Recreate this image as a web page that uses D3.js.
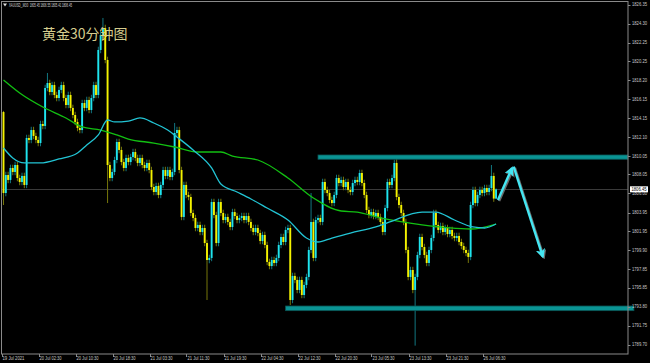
<!DOCTYPE html>
<html>
<head>
<meta charset="utf-8">
<script src="https://cdnjs.cloudflare.com/ajax/libs/d3/7.8.5/d3.min.js"></script>
<style>
  body { margin: 0; background: #000; }
  svg { display: block; }
</style>
</head>
<body>
<svg id="chart" width="650" height="363"></svg>
<script>
// XAUUSD M30 bars (price units)
var firstOpen = 1814.78;
var closes = [
  1806.05, 1807.99, 1807.46, 1808.75, 1808.32, 1809.07, 1807.67, 1807.24, 1807.89, 1806.92,
  1811.98, 1811.77, 1812.84, 1812.20, 1811.77, 1811.44, 1813.49, 1813.28, 1817.37, 1817.91,
  1816.94, 1817.69, 1816.62, 1816.29, 1817.16, 1817.69, 1816.29, 1815.54, 1816.62, 1815.22,
  1814.46, 1813.71, 1813.06, 1812.84, 1815.75, 1815.22, 1816.08, 1815.00, 1816.29, 1817.69,
  1816.62, 1821.47, 1823.08, 1823.84, 1820.39, 1809.07, 1807.67, 1808.32, 1809.61, 1811.55,
  1810.69, 1809.39, 1808.75, 1809.83, 1809.39, 1809.93, 1810.47, 1809.83, 1809.29, 1809.83,
  1809.07, 1808.75, 1809.29, 1808.53, 1806.70, 1806.16, 1806.81, 1805.84, 1806.92, 1808.53,
  1807.89, 1808.53, 1807.78, 1808.32, 1812.52, 1812.84, 1808.53, 1803.47, 1806.92, 1805.84,
  1805.62, 1803.90, 1803.36, 1802.28, 1802.61, 1801.85, 1802.28, 1800.66, 1798.83, 1799.05,
  1805.08, 1803.68, 1800.66, 1805.08, 1803.90, 1803.14, 1803.47, 1802.93, 1802.39, 1804.00,
  1803.57, 1803.14, 1803.36, 1803.57, 1803.14, 1803.57, 1802.93, 1802.28, 1801.85, 1802.28,
  1801.74, 1800.88, 1801.53, 1800.45, 1798.62, 1798.18, 1798.83, 1798.51, 1799.05, 1800.45,
  1801.31, 1800.77, 1802.07, 1802.28, 1794.52, 1797.11, 1796.68, 1795.60, 1796.68, 1795.06,
  1796.14, 1797.00, 1799.91, 1802.93, 1799.05, 1803.14, 1803.36, 1802.93, 1807.24, 1806.38,
  1806.05, 1805.30, 1804.97, 1805.84, 1807.67, 1807.13, 1807.46, 1806.70, 1807.24, 1806.38,
  1806.16, 1807.13, 1807.46, 1807.24, 1808.21, 1807.13, 1805.84, 1804.22, 1803.68, 1804.00,
  1803.57, 1803.90, 1803.47, 1802.93, 1801.85, 1804.43, 1807.24, 1806.92, 1807.67, 1809.29,
  1805.62, 1804.76, 1803.90, 1802.93, 1799.91, 1797.00, 1797.75, 1795.60, 1797.00, 1799.37,
  1801.31, 1800.23, 1799.37, 1798.51, 1799.91, 1801.20, 1803.90, 1802.61, 1802.07, 1802.50,
  1801.85, 1802.28, 1801.63, 1802.07, 1801.42, 1801.20, 1801.42, 1800.77, 1800.34, 1799.91,
  1799.59, 1799.16, 1804.76, 1806.38, 1804.97, 1805.84, 1806.38, 1806.05, 1806.59, 1806.16,
  1806.59, 1807.89, 1805.45, 1806.45
];
// long wicks that stand out [bar, price]
var highWicks = [[0, 1814.9], [19, 1818.99], [43, 1824.92], [74, 1813.60], [133, 1806.05],
                 [170, 1810.15], [211, 1809.07], [213, 1806.55]];
var lowWicks = [[0, 1804.76], [45, 1804.97], [88, 1794.52], [124, 1793.98], [178, 1789.60],
                [201, 1798.51], [213, 1805.41]];

// moving averages [bar, price]
var maFast = [[0, 1810.90], [4, 1809.83], [9, 1809.29], [16, 1809.29], [24, 1809.72], [32, 1810.37],
  [36, 1811.23], [41, 1812.31], [45, 1813.92], [48, 1813.71], [54, 1813.81], [59, 1814.14],
  [65, 1813.60], [71, 1812.84], [75, 1812.09], [82, 1810.69], [90, 1808.75], [94, 1807.02],
  [101, 1806.16], [107, 1805.41], [114, 1804.43], [123, 1803.14], [131, 1801.20], [136, 1800.77],
  [142, 1801.20], [150, 1801.74], [161, 1802.39], [167, 1802.93], [181, 1804.00], [187, 1804.00],
  [195, 1803.14], [203, 1802.39], [208, 1802.28], [213, 1802.71]];
var maSlow = [[0, 1818.23], [7, 1816.83], [17, 1815.32], [27, 1814.14], [34, 1813.17], [42, 1812.84],
  [49, 1812.31], [54, 1811.87], [65, 1811.44], [74, 1811.01], [84, 1810.47], [94, 1810.47],
  [99, 1810.04], [110, 1809.61], [123, 1807.67], [134, 1805.51], [146, 1804.11], [153, 1804.00],
  [163, 1803.36], [181, 1802.61], [202, 1802.17], [213, 1802.71]];

// drawn objects
var zones = [
  { from: 136, to: 270, top: 1810.15, bottom: 1809.69 },
  { from: 122, to: 272.6, top: 1793.87, bottom: 1793.37 }
];
var arrows = [
  [[213.8, 1805.30], [219.9, 1808.75]],
  [[220.6, 1808.89], [233.2, 1799.19]]
];

var timeLabels = ['19 Jul 2021', '20 Jul 02:30', '20 Jul 10:30', '20 Jul 18:30', '21 Jul 03:30',
  '21 Jul 11:30', '21 Jul 19:30', '22 Jul 04:30', '22 Jul 12:30', '22 Jul 20:30', '23 Jul 05:30',
  '23 Jul 13:30', '23 Jul 21:30', '26 Jul 06:30'];
var labelStep = 16;
var priceTicks = [1826.35, 1824.30, 1822.25, 1820.25, 1818.20, 1816.15, 1814.15, 1812.10, 1810.05,
  1808.05, 1806.00, 1803.95, 1801.95, 1799.90, 1797.85, 1795.85, 1793.80, 1791.75, 1789.70];
var lastPrice = 1806.45;
var header = 'XAUUSD_,M30  1805.45 1806.55 1805.41 1806.45';
var title = '黄金30分钟图';

var svg = d3.select('#chart');
var plotLeft = 2, plotRight = 628, plotTop = 2, plotBottom = 354;
var smallFont = '4.6px "Liberation Sans", sans-serif';

var x = d3.scaleLinear().domain([0, 213]).range([3.5, 3.5 + 213 * 2.3125]);
var y = d3.scaleLinear().domain([1789.70, 1826.35]).range([344.7, 4.7]);

// build bars
var hiMap = new Map(highWicks), loMap = new Map(lowWicks);
var bars = closes.map((c, i) => {
  var o = i == 0 ? firstOpen : closes[i - 1];
  return {
    i: i, o: o, c: c,
    h: hiMap.has(i) ? hiMap.get(i) : Math.max(o, c) + 0.35,
    l: loMap.has(i) ? loMap.get(i) : Math.min(o, c) - 0.35
  };
});

svg.append('rect').attr('width', 650).attr('height', 363).attr('fill', '#000');

svg.append('defs').append('clipPath').attr('id', 'plotClip')
  .append('rect').attr('x', plotLeft).attr('y', plotTop)
  .attr('width', plotRight - plotLeft).attr('height', plotBottom - plotTop);

var plot = svg.append('g').attr('clip-path', 'url(#plotClip)');

// bid line
plot.append('line')
  .attr('x1', plotLeft).attr('x2', plotRight)
  .attr('y1', Math.round(y(lastPrice)) + 0.5).attr('y2', Math.round(y(lastPrice)) + 0.5)
  .attr('stroke', '#3a3a3a').attr('stroke-width', 1);

// wicks
plot.selectAll('.wick')
  .data(bars)
  .join('line')
  .classed('wick', true)
  .attr('x1', d => x(d.i)).attr('x2', d => x(d.i))
  .attr('y1', d => y(d.h)).attr('y2', d => y(d.l))
  .attr('stroke', d => d.c >= d.o ? '#127680' : '#77770a')
  .attr('stroke-width', 1);

// bodies
plot.selectAll('.body')
  .data(bars)
  .join('rect')
  .classed('body', true)
  .attr('x', d => x(d.i) - 0.95)
  .attr('width', 1.9)
  .attr('y', d => y(Math.max(d.o, d.c)))
  .attr('height', d => Math.max(1, Math.abs(y(d.o) - y(d.c))))
  .attr('fill', d => d.c >= d.o ? '#1fe4ee' : '#f4f200');

// moving averages
var maLine = d3.line().x(d => x(d[0])).y(d => y(d[1])).curve(d3.curveMonotoneX);
plot.append('path').datum(maSlow).attr('d', maLine)
  .attr('fill', 'none').attr('stroke', '#12c012').attr('stroke-width', 1.3);
plot.append('path').datum(maFast).attr('d', maLine)
  .attr('fill', 'none').attr('stroke', '#22c4d4').attr('stroke-width', 1.3);

// support / resistance rectangles
svg.selectAll('.zone')
  .data(zones)
  .join('rect')
  .classed('zone', true)
  .attr('x', d => x(d.from))
  .attr('y', d => y(d.top))
  .attr('width', d => x(d.to) - x(d.from))
  .attr('height', d => y(d.bottom) - y(d.top))
  .attr('fill', '#0a9494')
  .attr('stroke', '#0b5656')
  .attr('stroke-width', 0.8);

// arrows
var defs = svg.select('defs');
defs.append('marker').attr('id', 'head').attr('viewBox', '0 0 10 10')
  .attr('refX', 8).attr('refY', 5).attr('markerWidth', 4).attr('markerHeight', 4)
  .attr('orient', 'auto').attr('markerUnits', 'strokeWidth')
  .append('path').attr('d', 'M0,0 L10,5 L0,10 L2.5,5 Z').attr('fill', '#44e6f2');
defs.append('marker').attr('id', 'headShadow').attr('viewBox', '0 0 10 10')
  .attr('refX', 8).attr('refY', 5).attr('markerWidth', 4).attr('markerHeight', 4)
  .attr('orient', 'auto').attr('markerUnits', 'strokeWidth')
  .append('path').attr('d', 'M0,0 L10,5 L0,10 L2.5,5 Z').attr('fill', '#6a6a6a');

var arrowLine = d3.line().x(d => x(d[0])).y(d => y(d[1]));
svg.selectAll('.arrowShadow')
  .data(arrows)
  .join('path')
  .classed('arrowShadow', true)
  .attr('d', arrowLine)
  .attr('transform', 'translate(1.2,1)')
  .attr('stroke', '#6a6a6a').attr('stroke-width', 2.4).attr('fill', 'none')
  .attr('marker-end', 'url(#headShadow)');
svg.selectAll('.arrow')
  .data(arrows)
  .join('path')
  .classed('arrow', true)
  .attr('d', arrowLine)
  .attr('stroke', '#44e6f2').attr('stroke-width', 2.4).attr('fill', 'none')
  .attr('marker-end', 'url(#head)');

// frame
svg.append('rect')
  .attr('x', plotLeft - 0.5).attr('y', plotTop - 0.5)
  .attr('width', plotRight - plotLeft + 0.5).attr('height', plotBottom - plotTop + 0.5)
  .attr('fill', 'none').attr('stroke', '#8a8a8a').attr('stroke-width', 1);

// price axis
var yAxis = svg.append('g');
yAxis.selectAll('line')
  .data(priceTicks)
  .join('line')
  .attr('x1', plotRight).attr('x2', plotRight + 2.5)
  .attr('y1', d => Math.round(y(d)) + 0.5).attr('y2', d => Math.round(y(d)) + 0.5)
  .attr('stroke', '#8a8a8a');
yAxis.selectAll('text')
  .data(priceTicks)
  .join('text')
  .attr('x', 632).attr('y', d => y(d) + 1.7)
  .attr('fill', '#c8c8c8')
  .attr('textLength', 15).attr('lengthAdjust', 'spacingAndGlyphs')
  .style('font', smallFont)
  .text(d => d.toFixed(2));

// last price box
var lp = y(lastPrice);
svg.append('rect').attr('x', 630).attr('y', lp - 3).attr('width', 18).attr('height', 6)
  .attr('fill', '#fff');
svg.append('text').attr('x', 631.5).attr('y', lp + 1.7)
  .attr('fill', '#000')
  .attr('textLength', 15).attr('lengthAdjust', 'spacingAndGlyphs')
  .style('font', smallFont)
  .text(lastPrice.toFixed(2));

// time axis
var xAxis = svg.append('g');
xAxis.selectAll('line')
  .data(timeLabels)
  .join('line')
  .attr('x1', (d, k) => Math.round(x(k * labelStep)) - 1.5)
  .attr('x2', (d, k) => Math.round(x(k * labelStep)) - 1.5)
  .attr('y1', plotBottom).attr('y2', plotBottom + 3)
  .attr('stroke', '#8a8a8a');
xAxis.selectAll('text')
  .data(timeLabels)
  .join('text')
  .attr('x', (d, k) => x(k * labelStep) - 1)
  .attr('y', 359.5)
  .attr('fill', '#c8c8c8')
  .attr('textLength', 22).attr('lengthAdjust', 'spacingAndGlyphs')
  .style('font', smallFont)
  .text(d => d);

// header and title
svg.append('path').attr('d', 'M3,3.5 L7,3.5 L5,6.5 Z').attr('fill', '#ddd');
svg.append('text').attr('x', 9).attr('y', 7)
  .attr('fill', '#d8d8d8')
  .attr('textLength', 63).attr('lengthAdjust', 'spacingAndGlyphs')
  .style('font', smallFont)
  .style('white-space', 'pre')
  .text(header);
svg.append('text').attr('x', 42).attr('y', 39)
  .attr('fill', '#d6cd8e')
  .style('font', '14px "Noto Sans CJK SC", sans-serif')
  .text(title);
</script>
</body>
</html>
